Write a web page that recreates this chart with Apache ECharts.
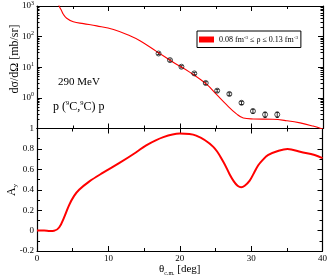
<!DOCTYPE html>
<html><head><meta charset="utf-8">
<script src="https://cdn.jsdelivr.net/npm/echarts@6/dist/echarts.min.js"></script>
<style>html,body{margin:0;padding:0;background:#fff}#c{width:330px;height:278px}</style>
</head><body><div id="c"></div>
<script>
// ---- data ----
const crossCurve = [[2.8,1800],[3.1,1000],[3.45,690],[3.68,537],[4.15,400],[5.08,305],[6.5,265],[8.35,224],[10.7,170],[13,106],[14.4,73],[16.7,33],[19.1,14.3],[21.4,6.8],[23.7,2.8],[25.1,1.3],[26.5,0.6],[27.9,0.3],[28.85,0.22],[30.25,0.205],[33,0.2],[34.9,0.18],[36.8,0.153],[38.6,0.12],[40,0.095]];
const crossData = [[17.0,28.1],[18.6,17.1],[20.2,10.4],[22.0,6.3],[23.6,3.06],[25.2,1.72],[26.9,1.34],[28.6,0.69],[30.2,0.37],[31.9,0.285],[33.6,0.285]];
const crossErr = [0.08,0.08,0.08,0.08,0.1,0.1,0.1,0.12,0.15,0.2,0.2];
const ayCurve = [[0,0],[1,0],[1.8,-0.004],[2.4,-0.002],[3.1,0.03],[3.8,0.13],[4.5,0.25],[5.2,0.34],[5.9,0.4],[7.3,0.48],[9.2,0.565],[11.5,0.66],[13.85,0.765],[15.3,0.835],[17.7,0.915],[20,0.95],[22.3,0.93],[24.7,0.82],[26.1,0.675],[27,0.55],[27.6,0.48],[28.1,0.44],[28.6,0.425],[29.1,0.44],[29.8,0.49],[30.4,0.565],[31,0.64],[31.6,0.69],[32.35,0.74],[33.75,0.78],[35.1,0.80],[37,0.77],[38.9,0.74],[40,0.71]];
const logTickLabels = {1000:'10{s|3}',100:'10{s|2}',10:'10{s|1}',1:'10{s|0}'};
const ayTicks = ['-0.2','0','0.2','0.4','0.6','0.8','1'];
const legendName = 'band';
const legendText = '0.08 fm{s|-3} \u2264 \u03c1 \u2264 0.13 fm{s|-3}';

const FONT = 'Liberation Serif';
const minorLog = [];
[0.1,1,10,100].forEach(d=>{for(let k=2;k<=9;k++) minorLog.push(+(d*k).toPrecision(3));});

const chart = echarts.init(document.getElementById('c'));
const lineS = {color:'#000', width:1.2};
function xAx(grid, pos, labels){
  return {type:'value', gridIndex:grid, position:pos, min:0, max:40, interval:10,
    axisLine:{show:true, onZero:false, lineStyle:lineS},
    axisTick:{show:true, inside:true, length:5, lineStyle:{color:'#000'}},
    minorTick:{show:true, splitNumber:2, length:3, lineStyle:{color:'#000'}},
    axisLabel:{show:labels, color:'#000', fontFamily:FONT, fontSize:9, margin:3, showMinLabel:true, showMaxLabel:true, hideOverlap:false},
    splitLine:{show:false}};
}
function logAx(pos, labels, minor){
  return {type:'log', gridIndex:0, position:pos, min:0.1, max:1000, logBase:10,
    axisLine:{show:!minor, onZero:false, lineStyle:lineS},
    axisTick:minor ? {show:true, inside:true, length:2.5, customValues:minorLog, lineStyle:{color:'#000'}}
                   : {show:true, inside:true, length:5, lineStyle:{color:'#000'}},
    axisLabel:{show:labels, color:'#000', fontFamily:FONT, fontSize:9, margin:3,
      formatter:v=>(v>=1 && logTickLabels[Math.round(v)]) ? logTickLabels[Math.round(v)] : '',
      rich:{s:{fontSize:6, verticalAlign:'bottom', padding:[0,0,6,0], fontFamily:FONT, color:'#000'}}},
    splitLine:{show:false}};
}
function ayAx(pos, labels){
  return {type:'value', gridIndex:1, position:pos, min:-0.2, max:1, interval:0.2,
    axisLine:{show:true, onZero:false, lineStyle:lineS},
    axisTick:{show:true, inside:true, length:5, lineStyle:{color:'#000'}},
    minorTick:{show:true, splitNumber:2, length:3, lineStyle:{color:'#000'}},
    axisLabel:{show:labels, color:'#000', fontFamily:FONT, fontSize:9, margin:3,
      showMinLabel:true, showMaxLabel:true, hideOverlap:false,
      formatter:v=>ayTicks[Math.round((v+0.2)/0.2)]},
    splitLine:{show:false}};
}
const xb = xAx(1,'bottom',true);
xb.name = '\u03b8{b|c.m.} [deg]'; xb.nameLocation='middle'; xb.nameGap=11;
xb.nameTextStyle = {fontFamily:FONT, fontSize:11, color:'#000', rich:{b:{fontSize:6, fontFamily:FONT, verticalAlign:'top', padding:[8,0,0,0]}}};

chart.setOption({
  animation:false,
  textStyle:{fontFamily:FONT},
  grid:[{left:37, right:7, top:5, height:123.5},{left:37, right:7, top:128.5, height:122.5}],
  xAxis:[xAx(0,'bottom',false), xAx(0,'top',false), xb, xAx(1,'top',false)],
  yAxis:[logAx('left',true,false), logAx('right',false,false), logAx('left',false,true), logAx('right',false,true), ayAx('left',true), ayAx('right',false)],
  legend:{data:[{name:legendName, icon:'rect'}], left:197, top:31, orient:'vertical',
    itemWidth:15, itemHeight:6, itemGap:0, padding:[4,3,4,2],
    borderColor:'#000', borderWidth:1, backgroundColor:'#fff',
    formatter:()=>legendText,
    textStyle:{fontFamily:FONT, fontSize:8, color:'#000', rich:{s:{fontSize:5, verticalAlign:'bottom', padding:[0,0,4,0], fontFamily:FONT}}}},
  graphic:[
    {type:'text', x:15, y:59, rotation:Math.PI/2, style:{text:'d\u03c3/d\u03a9 [mb/sr]', font:'12px "Liberation Serif"', fill:'#000', align:'center', verticalAlign:'middle'}},
    {type:'text', x:12, y:190, rotation:Math.PI/2, style:{text:'A{b|y}', font:'12px "Liberation Serif"', fill:'#000', align:'center', verticalAlign:'middle',
      rich:{b:{fontSize:7, verticalAlign:'bottom', padding:[6,0,0,0], fontFamily:FONT}}}},
    {type:'text', left:58, top:77, style:{text:'290 MeV', font:'11px "Liberation Serif"', fill:'#000'}},
    {type:'text', left:53, top:100, style:{text:'p ({s|9}C,{s|9}C) p', font:'12px "Liberation Serif"', fill:'#000',
      rich:{s:{fontSize:6.5, verticalAlign:'bottom', padding:[0,0,6,0], fontFamily:FONT}}}}
  ],
  series:[
    {name:legendName, type:'line', xAxisIndex:0, yAxisIndex:0, data:crossCurve, smooth:0.4, showSymbol:false, clip:true,
      lineStyle:{color:'#ff0000', width:1.1}, itemStyle:{color:'#ff0000'}},
    {name:'err', type:'custom', xAxisIndex:0, yAxisIndex:0, data:crossData.map((d,i)=>[d[0],d[1]*(1-crossErr[i]),d[1]*(1+crossErr[i])]),
      renderItem:(params, api)=>{
        const lo = api.coord([api.value(0), api.value(1)]);
        const hi = api.coord([api.value(0), api.value(2)]);
        return {type:'group', children:[
          {type:'line', shape:{x1:lo[0], y1:lo[1], x2:hi[0], y2:hi[1]}, style:{stroke:'#000', lineWidth:0.8}},
          {type:'line', shape:{x1:lo[0]-1.5, y1:lo[1], x2:lo[0]+1.5, y2:lo[1]}, style:{stroke:'#000', lineWidth:0.8}},
          {type:'line', shape:{x1:hi[0]-1.5, y1:hi[1], x2:hi[0]+1.5, y2:hi[1]}, style:{stroke:'#000', lineWidth:0.8}}
        ]};
      }, z:3},
    {name:'data', type:'scatter', xAxisIndex:0, yAxisIndex:0, data:crossData, symbol:'circle', symbolSize:5,
      itemStyle:{color:'rgba(0,0,0,0)', borderColor:'#000', borderWidth:0.9}, z:4},
    {name:'ay', type:'line', xAxisIndex:2, yAxisIndex:4, data:ayCurve, smooth:0.35, showSymbol:false,
      lineStyle:{color:'#ff0000', width:2}}
  ]
});
</script></body></html>
